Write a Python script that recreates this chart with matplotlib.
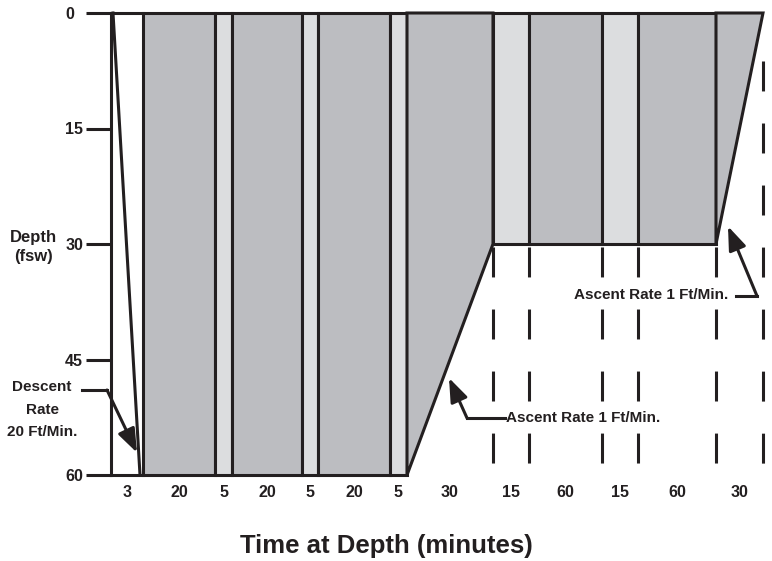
import matplotlib.pyplot as plt
import numpy as np

# Segments of the profile (schematic: drawn widths are not to scale)
minutes = [3, 20, 5, 20, 5, 20, 5, 30, 15, 60, 15, 60, 30]
start_depth = [0, 60, 60, 60, 60, 60, 60, 60, 30, 30, 30, 30, 30]
end_depth = [60, 60, 60, 60, 60, 60, 60, 30, 30, 30, 30, 30, 0]
gas = ["descent", "O2", "air", "O2", "air", "O2", "air", "O2", "air", "O2", "air", "O2", "O2"]
seg_width = [3.2, 7.2, 1.7, 7.0, 1.6, 7.2, 1.7, 8.6, 3.6, 7.3, 3.6, 7.8, 4.7]
depth_ticks = [0, 15, 30, 45, 60]

INK = "#231F20"
DARK = "#BCBDC1"
LIGHT = "#DCDDDF"
LW = 2.2

plt.rcParams["font.family"] = ["Liberation Sans", "DejaVu Sans"]
plt.rcParams["font.weight"] = "bold"
plt.rcParams["text.color"] = INK
plt.rcParams["xtick.color"] = INK
plt.rcParams["ytick.color"] = INK

fig = plt.figure(figsize=(7.72, 5.61), dpi=100)
ax = fig.add_axes([111 / 772, 1 - 475 / 561, 652 / 772, 462 / 561])

edges = np.concatenate([[0], np.cumsum(seg_width)])
fills = {"O2": DARK, "air": LIGHT}

for i, kind in enumerate(gas):
    x0, x1 = edges[i], edges[i + 1]
    d0, d1 = start_depth[i], end_depth[i]
    if kind == "descent":
        ax.plot([x0 + 0.2, x1 - 0.3], [d0, d1], color=INK, lw=LW, clip_on=False)
        ax.plot([x0, x1], [0, 0], color=INK, lw=LW, clip_on=False)
        ax.plot([x0, x1], [60, 60], color=INK, lw=LW, clip_on=False)
    elif d0 == d1:
        ax.bar(x0, d0, width=x1 - x0, bottom=0, align="edge", color=fills[kind],
               edgecolor=INK, linewidth=LW, clip_on=False)
    else:
        ax.fill([x0, x0, x1, x1], [0, d0, d1, 0], facecolor=fills[kind],
                edgecolor=INK, linewidth=LW, clip_on=False, joinstyle="miter")

# dashed guides below the 30 fsw stops
period = 62 / 462 * 60
for j, x in enumerate(edges[8:]):
    top = 30.4 if j < len(edges[8:]) - 1 else 30.4 - 3 * period
    ax.plot([x, x], [top, 60], color=INK, lw=LW, clip_on=False,
            linestyle=(0, (9.8, 10.5)))

ax.set_xlim(0, edges[-1])
ax.set_ylim(60, 0)
for s in ["top", "right", "bottom"]:
    ax.spines[s].set_visible(False)
ax.spines["left"].set_linewidth(LW)
ax.spines["left"].set_color(INK)
ax.patch.set_visible(False)

ax.set_yticks(depth_ticks)
ax.set_yticklabels([str(d) for d in depth_ticks], fontsize=11.5, fontweight="bold",
                   ha="left")
ax.tick_params(axis="y", length=18, width=LW, color=INK, pad=15)

centers = (edges[:-1] + edges[1:]) / 2
ax.set_xticks(centers)
ax.set_xticklabels([str(m) for m in minutes], fontsize=11.5, fontweight="bold")
ax.tick_params(axis="x", length=0, pad=7)

ax.text(-7.8, 30.4, "Depth\n(fsw)", ha="center", va="center", fontsize=12,
        fontweight="bold", linespacing=1.3)

arrow = dict(arrowstyle="-|>,head_length=1.2,head_width=0.45", color=INK, lw=LW,
             shrinkA=0, shrinkB=0, mutation_scale=12)

# descent note
ax.text(-6.9, 51.5, "Descent\nRate\n20 Ft/Min.", ha="center", va="center",
        fontsize=11, fontweight="bold", linespacing=1.75)
ax.plot([-2.9, -0.4], [48.96, 48.96], color=INK, lw=LW, clip_on=False)
ax.annotate("", xy=(2.6, 57.1), xytext=(-0.4, 48.96), arrowprops=arrow,
            annotation_clip=False)

# first ascent note
ax.text(39.5, 52.6, "Ascent Rate 1 Ft/Min.", ha="left", va="center",
        fontsize=11, fontweight="bold")
ax.plot([35.6, 39.4], [52.6, 52.6], color=INK, lw=LW, clip_on=False)
ax.annotate("", xy=(33.8, 47.4), xytext=(35.6, 52.6), arrowprops=arrow,
            annotation_clip=False)

# final ascent note
ax.text(61.7, 36.6, "Ascent Rate 1 Ft/Min.", ha="right", va="center",
        fontsize=11, fontweight="bold")
ax.plot([62.5, 64.6], [36.75, 36.75], color=INK, lw=LW, clip_on=False)
ax.annotate("", xy=(61.7, 27.7), xytext=(64.6, 36.75), arrowprops=arrow,
            annotation_clip=False)

fig.text(386 / 772, 1 - 553 / 561, "Time at Depth (minutes)", ha="center",
         va="baseline", fontsize=18.5, fontweight="bold", color=INK)

fig.savefig("out.png", dpi=100)
